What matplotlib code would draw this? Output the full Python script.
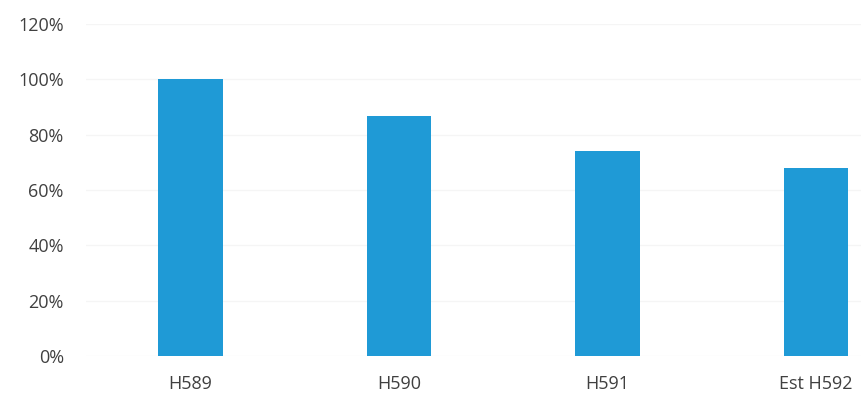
import numpy as np
import matplotlib
matplotlib.use('Agg')
import matplotlib.pyplot as plt
from matplotlib.ticker import PercentFormatter

categories = ["H589", "H590", "H591", "Est H592"]
values = [100.0, 86.7, 74.1, 67.9]
yticks = [0, 20, 40, 60, 80, 100, 120]

plt.rcParams['font.family'] = ['Open Sans', 'DejaVu Sans']

fig = plt.figure(figsize=(8.61, 3.95), dpi=100)
ax = fig.add_axes([0.0999, 0.0987, 0.9001, 0.8403])

x = np.arange(len(categories))
ax.bar(x, values, width=0.31, color="#1f9ad6", zorder=2)

ax.set_xlim(-0.5, 3.215)
ax.set_ylim(0, 120)
ax.set_yticks(yticks)
ax.yaxis.set_major_formatter(PercentFormatter(decimals=0))
ax.set_xticks(x)
ax.set_xticklabels(categories)
ax.grid(axis="y", color="#f5f5f5", linewidth=1, zorder=0)
for s in ax.spines.values():
    s.set_visible(False)
ax.tick_params(axis="y", length=0, pad=16, labelsize=13, labelcolor="#404040")
ax.tick_params(axis="x", length=0, pad=14, labelsize=13, labelcolor="#404040")

fig.savefig("out.png", dpi=100)
